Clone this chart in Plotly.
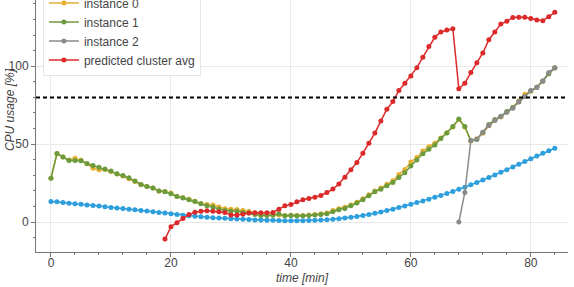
import plotly.graph_objects as go

# ---- data ----
time_all = list(range(0, 85))

cluster_avg = [13.2, 13.0, 12.5, 12.1, 11.8, 11.5, 11.0, 10.6, 10.3, 9.8,
               9.4, 9.0, 8.7, 8.3, 7.9, 7.5, 7.1, 6.6, 6.2, 5.8,
               5.3, 4.8, 4.4, 4.1, 3.7, 3.4, 3.1, 2.8, 2.6, 2.4,
               2.2, 2.0, 1.8, 1.6, 1.4, 1.3, 1.2, 1.1, 1.0, 0.9,
               0.9, 0.9, 0.9, 1.0, 1.1, 1.3, 1.5, 1.8, 2.2, 2.6,
               3.1, 3.6, 4.2, 4.9, 5.7, 6.5, 7.4, 8.3, 9.3, 10.3,
               11.4, 12.5, 13.6, 14.7, 15.9, 17.1, 18.4, 19.7, 21.0, 22.4,
               23.9, 25.4, 27.0, 28.6, 30.2, 31.9, 33.6, 35.3, 37.1, 38.9,
               40.7, 42.4, 44.1, 45.8, 47.4]

instance_0 = [28.2, 44.0, 41.7, 39.8, 40.9, 39.6, 37.4, 34.6, 33.5, 33.8,
              32.5, 30.8, 29.6, 27.8, 26.0, 24.0, 22.8, 21.8, 20.0, 19.6,
              18.6, 16.6, 15.7, 14.6, 13.4, 12.0, 11.3, 10.9, 9.6, 8.6,
              8.3, 8.0, 7.4, 6.8, 5.8, 5.0, 4.6, 4.4, 4.6, 4.3,
              4.4, 4.3, 4.3, 4.5, 4.9, 5.3, 5.9, 7.5, 8.6, 9.5,
              11.0, 12.8, 15.0, 17.5, 19.9, 21.8, 24.2, 26.5, 30.5, 33.8,
              38.5, 41.5, 45.6, 48.4, 50.6, 54.0, 57.3, 61.0, 65.8, 61.0,
              52.0, 53.5, 57.0, 61.8, 65.2, 67.5, 70.6, 73.6, 77.8, 82.0,
              84.0, 86.6, 90.6, 95.5, 99.0]

instance_1 = [28.2, 44.0, 41.7, 39.5, 39.5, 39.4, 37.6, 36.3, 35.2, 34.0,
              32.7, 31.0, 29.9, 28.4, 26.3, 24.1, 22.8, 21.8, 19.9, 19.4,
              18.1, 16.4, 15.5, 14.4, 13.2, 11.7, 10.4, 9.6, 8.3, 7.5,
              7.0, 7.0, 6.2, 5.8, 4.9, 4.2, 4.2, 4.5, 5.3, 4.0,
              4.3, 4.1, 4.0, 4.2, 4.5, 4.9, 5.3, 6.6, 7.9, 8.7,
              10.4, 12.2, 14.3, 16.9, 19.4, 21.1, 23.3, 25.4, 28.6, 31.6,
              36.0, 39.9, 43.8, 46.8, 49.4, 53.6, 57.1, 61.3, 66.2, 61.3,
              52.3, 53.0, 57.5, 62.6, 65.8, 67.9, 71.0, 73.6, 77.0, 80.5,
              84.2, 86.4, 90.4, 95.2, 98.8]

time_inst2 = list(range(68, 85))
instance_2 = [0.0, 19.0, 52.3, 53.2, 57.7, 62.0, 65.1, 67.7, 70.5, 73.1,
              77.3, 80.5, 84.4, 86.5, 90.6, 95.9, 99.1]

time_pred = list(range(19, 85))
predicted = [-10.9, -3.0, -0.4, 2.3, 4.8, 6.3, 7.0, 7.2, 7.0, 6.6,
             6.2, 4.5, 4.5, 5.1, 5.8, 6.0, 6.0, 6.0, 6.2, 8.3,
             10.4, 11.2, 13.0, 14.3, 15.1, 16.0, 17.1, 19.0, 21.2, 24.4,
             28.8, 33.5, 38.2, 44.2, 50.6, 57.1, 64.9, 72.4, 77.3, 84.4,
             89.1, 93.8, 99.1, 105.8, 112.6, 118.6, 122.0, 123.3, 124.1, 85.6,
             89.1, 95.9, 102.3, 108.5, 117.0, 122.0, 127.1, 128.8, 131.3, 131.4,
             131.4, 130.6, 129.7, 129.2, 131.8, 134.6]

threshold = 80

names = ["cluster avg", "instance 0", "instance 1", "instance 2", "predicted cluster avg"]
colors = ["#2c9fdc", "#e6ae30", "#6b9b3c", "#8a8a8a", "#dc2a2a"]

FONT = "Liberation Sans, Arial, Helvetica, sans-serif"

fig = go.Figure()
series = [
    (time_all, cluster_avg, False),
    (time_all, instance_0, True),
    (time_all, instance_1, True),
    (time_inst2, instance_2, True),
    (time_pred, predicted, True),
]
for (xs, ys, show), name, col in zip(series, names, colors):
    fig.add_trace(go.Scatter(
        x=xs, y=ys, name=name, mode="lines+markers",
        line=dict(color=col, width=1.5),
        marker=dict(color=col, size=5),
        showlegend=show,
    ))

fig.add_hline(y=threshold, line=dict(color="black", width=2, dash="4px,3px"))

axis_common = dict(
    showline=True, linecolor="#777", linewidth=1,
    ticks="outside", ticklen=4, tickcolor="#777", tickwidth=1,
    tickfont=dict(family=FONT, size=12, color="#444"),
    showgrid=True, gridcolor="#e8e8e8", gridwidth=1,
    zeroline=False, automargin=False,
)

fig.update_xaxes(range=[-2.5, 86.2], dtick=20, tick0=0, ticklabelstandoff=-4,
                 minor=dict(dtick=4, ticklen=2, tickcolor="#777", showgrid=False),
                 **axis_common)
fig.update_yaxes(range=[-19.2, 142.5], dtick=50, tick0=0,
                 minor=dict(dtick=10, ticklen=2, tickcolor="#777", showgrid=False),
                 **axis_common)

fig.update_layout(
    width=574, height=287,
    margin=dict(l=36, r=6, t=0, b=35, autoexpand=False),
    paper_bgcolor="white", plot_bgcolor="white",
    font=dict(family=FONT, color="#444"),
    legend=dict(
        x=0.013, xanchor="left", y=0.70, yanchor="bottom",
        bgcolor="white", bordercolor="#e6e6e6", borderwidth=1,
        itemwidth=30,
        font=dict(family=FONT, size=12, color="#444"),
    ),
    annotations=[
        dict(text="<i>time [min]</i>", xref="paper", yref="paper",
             x=0.5, y=-0.103, xanchor="center", yanchor="middle",
             showarrow=False, font=dict(family=FONT, size=12, color="#444")),
        dict(text="<i>CPU usage [%]</i>", xref="paper", yref="paper",
             x=-0.049, y=0.567, xanchor="center", yanchor="middle",
             textangle=-90, showarrow=False,
             font=dict(family=FONT, size=12, color="#444")),
    ],
)

fig.write_html("out.html", config={"displayModeBar": False},
               post_script="document.body.style.margin='0';document.body.style.padding='0';")
